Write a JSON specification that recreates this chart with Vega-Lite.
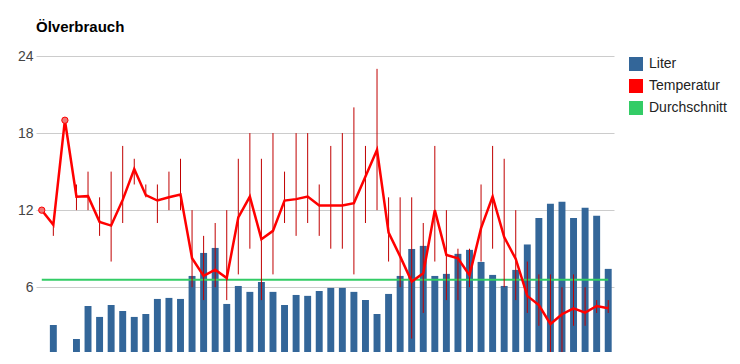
{
  "$schema": "https://vega.github.io/schema/vega-lite/v6.json",
  "autosize": {"type": "none"},
  "width": 578,
  "height": 296,
  "padding": {"left": 36, "top": 56, "right": 126, "bottom": 12},
  "title": {"text": "Ölverbrauch", "anchor": "start", "frame": "group", "fontSize": 15, "fontWeight": "bold", "color": "#000000", "baseline": "bottom", "offset": 20, "dy": 21, "font": "Liberation Sans"},
  "config": {
    "font": "Liberation Sans",
    "view": {"stroke": null},
    "axis": {"labelFont": "Liberation Sans"},
    "legend": {"labelFont": "Liberation Sans"}
  },
  "data": {"values": [
    {"i": 0, "liter": null, "temp": 12.0, "tmin": null, "tmax": null, "avg": 6.59},
    {"i": 1, "liter": 3.06, "temp": 10.86, "tmin": 10, "tmax": 11, "avg": 6.59},
    {"i": 2, "liter": null, "temp": 19.0, "tmin": null, "tmax": null, "avg": 6.59},
    {"i": 3, "liter": 1.97, "temp": 13.04, "tmin": 12, "tmax": 14, "avg": 6.59},
    {"i": 4, "liter": 4.54, "temp": 13.09, "tmin": 12, "tmax": 15, "avg": 6.59},
    {"i": 5, "liter": 3.69, "temp": 11.09, "tmin": 10, "tmax": 13, "avg": 6.59},
    {"i": 6, "liter": 4.62, "temp": 10.8, "tmin": 8, "tmax": 15, "avg": 6.59},
    {"i": 7, "liter": 4.15, "temp": 12.8, "tmin": 11, "tmax": 17, "avg": 6.59},
    {"i": 8, "liter": 3.69, "temp": 15.2, "tmin": 14, "tmax": 16, "avg": 6.59},
    {"i": 9, "liter": 3.92, "temp": 13.17, "tmin": 13, "tmax": 14, "avg": 6.59},
    {"i": 10, "liter": 5.09, "temp": 12.75, "tmin": 11, "tmax": 14, "avg": 6.59},
    {"i": 11, "liter": 5.17, "temp": 13.01, "tmin": 12, "tmax": 15, "avg": 6.59},
    {"i": 12, "liter": 5.09, "temp": 13.22, "tmin": 12, "tmax": 16, "avg": 6.59},
    {"i": 13, "liter": 6.88, "temp": 8.26, "tmin": 6, "tmax": 12, "avg": 6.59},
    {"i": 14, "liter": 8.67, "temp": 6.88, "tmin": 5, "tmax": 10, "avg": 6.59},
    {"i": 15, "liter": 9.06, "temp": 7.37, "tmin": 6, "tmax": 11, "avg": 6.59},
    {"i": 16, "liter": 4.7, "temp": 6.72, "tmin": 5, "tmax": 12, "avg": 6.59},
    {"i": 17, "liter": 6.1, "temp": 11.43, "tmin": 7, "tmax": 16, "avg": 6.59},
    {"i": 18, "liter": 5.64, "temp": 13.06, "tmin": 9, "tmax": 18, "avg": 6.59},
    {"i": 19, "liter": 6.41, "temp": 9.74, "tmin": 5, "tmax": 16, "avg": 6.59},
    {"i": 20, "liter": 5.64, "temp": 10.39, "tmin": 7, "tmax": 18, "avg": 6.59},
    {"i": 21, "liter": 4.62, "temp": 12.75, "tmin": 11, "tmax": 15, "avg": 6.59},
    {"i": 22, "liter": 5.4, "temp": 12.86, "tmin": 10, "tmax": 18, "avg": 6.59},
    {"i": 23, "liter": 5.33, "temp": 13.06, "tmin": 11, "tmax": 18, "avg": 6.59},
    {"i": 24, "liter": 5.71, "temp": 12.36, "tmin": 10, "tmax": 14, "avg": 6.59},
    {"i": 25, "liter": 5.95, "temp": 12.36, "tmin": 9, "tmax": 17, "avg": 6.59},
    {"i": 26, "liter": 5.95, "temp": 12.36, "tmin": 9, "tmax": 18, "avg": 6.59},
    {"i": 27, "liter": 5.64, "temp": 12.55, "tmin": 7, "tmax": 20, "avg": 6.59},
    {"i": 28, "liter": 5.01, "temp": 14.62, "tmin": 11, "tmax": 17, "avg": 6.59},
    {"i": 29, "liter": 3.92, "temp": 16.7, "tmin": 12, "tmax": 23, "avg": 6.59},
    {"i": 30, "liter": 5.48, "temp": 10.26, "tmin": 8, "tmax": 13, "avg": 6.59},
    {"i": 31, "liter": 6.88, "temp": 8.4, "tmin": 6, "tmax": 13, "avg": 6.59},
    {"i": 32, "liter": 8.98, "temp": 6.44, "tmin": 2, "tmax": 13, "avg": 6.59},
    {"i": 33, "liter": 9.22, "temp": 7.09, "tmin": 4, "tmax": 11, "avg": 6.59},
    {"i": 34, "liter": 6.88, "temp": 12.0, "tmin": 8, "tmax": 17, "avg": 6.59},
    {"i": 35, "liter": 7.04, "temp": 8.52, "tmin": 5, "tmax": 12, "avg": 6.59},
    {"i": 36, "liter": 8.6, "temp": 8.26, "tmin": 5, "tmax": 9, "avg": 6.59},
    {"i": 37, "liter": 8.91, "temp": 6.93, "tmin": 6, "tmax": 9, "avg": 6.59},
    {"i": 38, "liter": 7.97, "temp": 10.6, "tmin": 8, "tmax": 14, "avg": 6.59},
    {"i": 39, "liter": 6.96, "temp": 13.06, "tmin": 9, "tmax": 17, "avg": 6.59},
    {"i": 40, "liter": 6.1, "temp": 9.9, "tmin": 6, "tmax": 16, "avg": 6.59},
    {"i": 41, "liter": 7.35, "temp": 8.2, "tmin": 5, "tmax": 12, "avg": 6.59},
    {"i": 42, "liter": 9.33, "temp": 5.33, "tmin": 4, "tmax": 8, "avg": 6.59},
    {"i": 43, "liter": 11.4, "temp": 4.62, "tmin": 3, "tmax": 7, "avg": 6.59},
    {"i": 44, "liter": 12.49, "temp": 3.14, "tmin": 0, "tmax": 7, "avg": 6.59},
    {"i": 45, "liter": 12.65, "temp": 3.9, "tmin": 0, "tmax": 6, "avg": 6.59},
    {"i": 46, "liter": 11.4, "temp": 4.36, "tmin": 3, "tmax": 7, "avg": 6.59},
    {"i": 47, "liter": 12.18, "temp": 4.02, "tmin": 3, "tmax": 6, "avg": 6.59},
    {"i": 48, "liter": 11.56, "temp": 4.54, "tmin": 4, "tmax": 5, "avg": 6.59},
    {"i": 49, "liter": 7.43, "temp": 4.36, "tmin": 4, "tmax": 5, "avg": 6.59}
  ]},
  "encoding": {
    "x": {"field": "i", "type": "ordinal", "scale": {"type": "band", "paddingInner": 0.4, "paddingOuter": 0.2}, "axis": null}
  },
  "layer": [
    {
      "mark": {"type": "bar", "clip": true},
      "encoding": {
        "y": {"field": "liter", "type": "quantitative", "scale": {"domain": [0.96, 24], "zero": false, "nice": false},
          "axis": {"values": [6, 12, 18, 24], "title": null, "grid": true, "gridColor": "#cccccc", "gridWidth": 1, "domain": false, "ticks": false, "labelFontSize": 14, "labelColor": "#444444", "labelPadding": 3}},
        "color": {"datum": "Liter", "type": "nominal",
          "scale": {"domain": ["Liter", "Temperatur", "Durchschnitt"], "range": ["#336699", "#ff0000", "#33cc66"]},
          "legend": {"title": null, "orient": "none", "legendX": 593, "legendY": 1, "symbolType": "square", "symbolSize": 196, "symbolStrokeWidth": 0, "symbolOpacity": 1, "labelFontSize": 14, "labelColor": "#222222", "labelOffset": 6, "rowPadding": 8}}
      }
    },
    {
      "mark": {"type": "line", "color": "#33cc66", "strokeWidth": 2},
      "encoding": {"y": {"field": "avg", "type": "quantitative"}}
    },
    {
      "mark": {"type": "rule", "color": "#c00000", "strokeWidth": 1, "clip": true},
      "encoding": {"y": {"field": "tmin", "type": "quantitative"}, "y2": {"field": "tmax"}}
    },
    {
      "mark": {"type": "line", "color": "#ff0000", "strokeWidth": 2.5},
      "encoding": {"y": {"field": "temp", "type": "quantitative"}}
    },
    {
      "transform": [{"filter": "datum.i == 0 || datum.i == 2"}],
      "mark": {"type": "point", "shape": "circle", "filled": true, "fill": "#ee7777", "stroke": "#ff0000", "strokeWidth": 1, "size": 40, "opacity": 1},
      "encoding": {"y": {"field": "temp", "type": "quantitative"}}
    }
  ]
}
